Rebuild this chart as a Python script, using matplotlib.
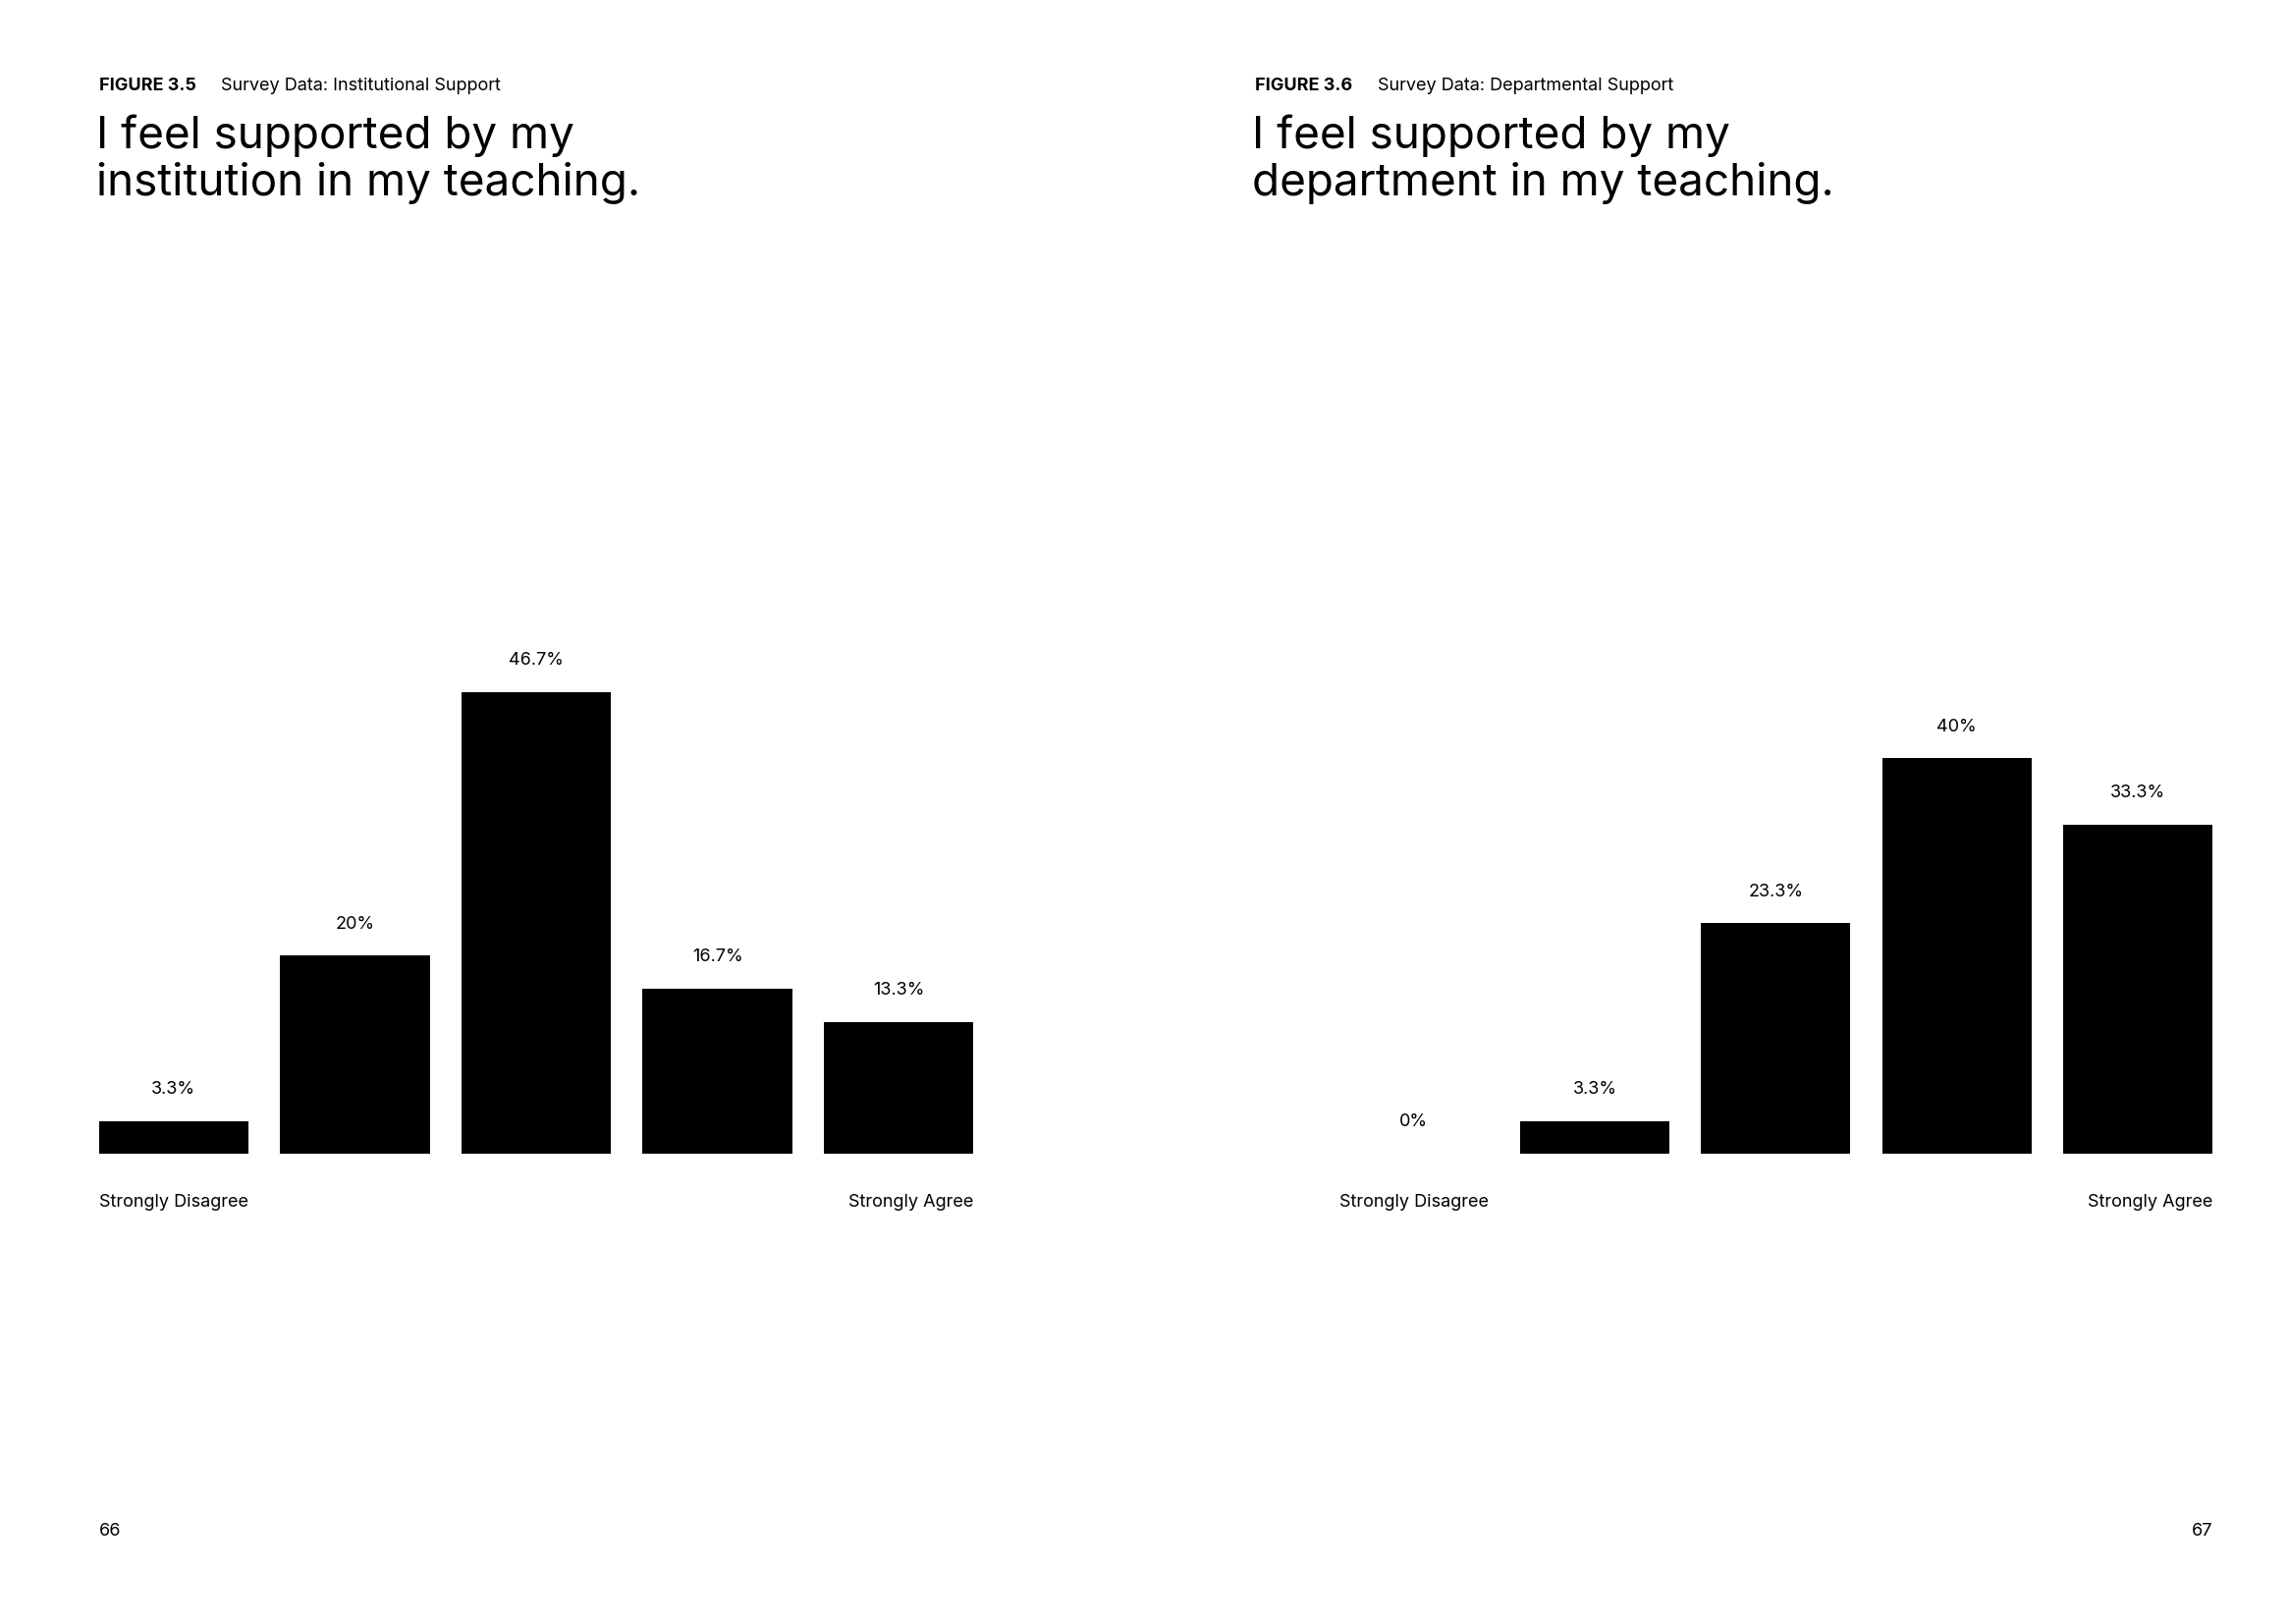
import matplotlib
matplotlib.use('Agg')
import matplotlib.pyplot as plt

plt.rcParams['font.family'] = ['Inter', 'DejaVu Sans']

categories = ['Strongly Disagree', 'Disagree', 'Neutral', 'Agree', 'Strongly Agree']
institution = [3.3, 20, 46.7, 16.7, 13.3]
institution_labels = ['3.3%', '20%', '46.7%', '16.7%', '13.3%']
department = [0, 3.3, 23.3, 40, 33.3]
department_labels = ['0%', '3.3%', '23.3%', '40%', '33.3%']

W, H = 1552, 1101  # reference layout units
fig = plt.figure(figsize=(23.31, 16.54), dpi=100)


def fx(x):
    return x / W


def fy(y):
    return 1 - y / H


def panel(x0, x1, values, labels, fig_label, subtitle, title, page, page_ha):
    base = 782
    top = base - 50 * 6.70
    ax = fig.add_axes([fx(x0), fy(base), fx(x1 - x0), fy(top) - fy(base)])
    w = 0.825
    xs = range(len(values))
    ax.bar(xs, values, width=w, color='black')
    for x, v, lab in zip(xs, values, labels):
        ax.annotate(lab, (x, v), xytext=(0, 17), textcoords='offset points',
                    ha='center', va='bottom', fontsize=13)
    ax.set_xlim(-w / 2, len(values) - 1 + w / 2)
    ax.set_ylim(0, 50)
    ax.axis('off')

    fig.text(fx(x0), fy(815), categories[0], ha='left', va='center', fontsize=13)
    fig.text(fx(x1), fy(815), categories[-1], ha='right', va='center', fontsize=13)

    tx = 67 if x0 < 700 else 851
    fig.text(fx(tx), fy(58), fig_label, ha='left', va='center', fontsize=13, fontweight='bold')
    fig.text(fx(tx + 83), fy(58), subtitle, ha='left', va='center', fontsize=13)
    fig.text(fx(tx - 2), fy(108), title, ha='left', va='center', fontsize=33, linespacing=1.12)
    px = 67 if page_ha == 'left' else 1500
    fig.text(fx(px), fy(1038), page, ha=page_ha, va='center', fontsize=13)


panel(67, 660, institution, institution_labels, 'FIGURE 3.5',
      'Survey Data: Institutional Support',
      'I feel supported by my\ninstitution in my teaching.', '66', 'left')
panel(908, 1500, department, department_labels, 'FIGURE 3.6',
      'Survey Data: Departmental Support',
      'I feel supported by my\ndepartment in my teaching.', '67', 'right')

fig.savefig('out.png', dpi=100, facecolor='white')
